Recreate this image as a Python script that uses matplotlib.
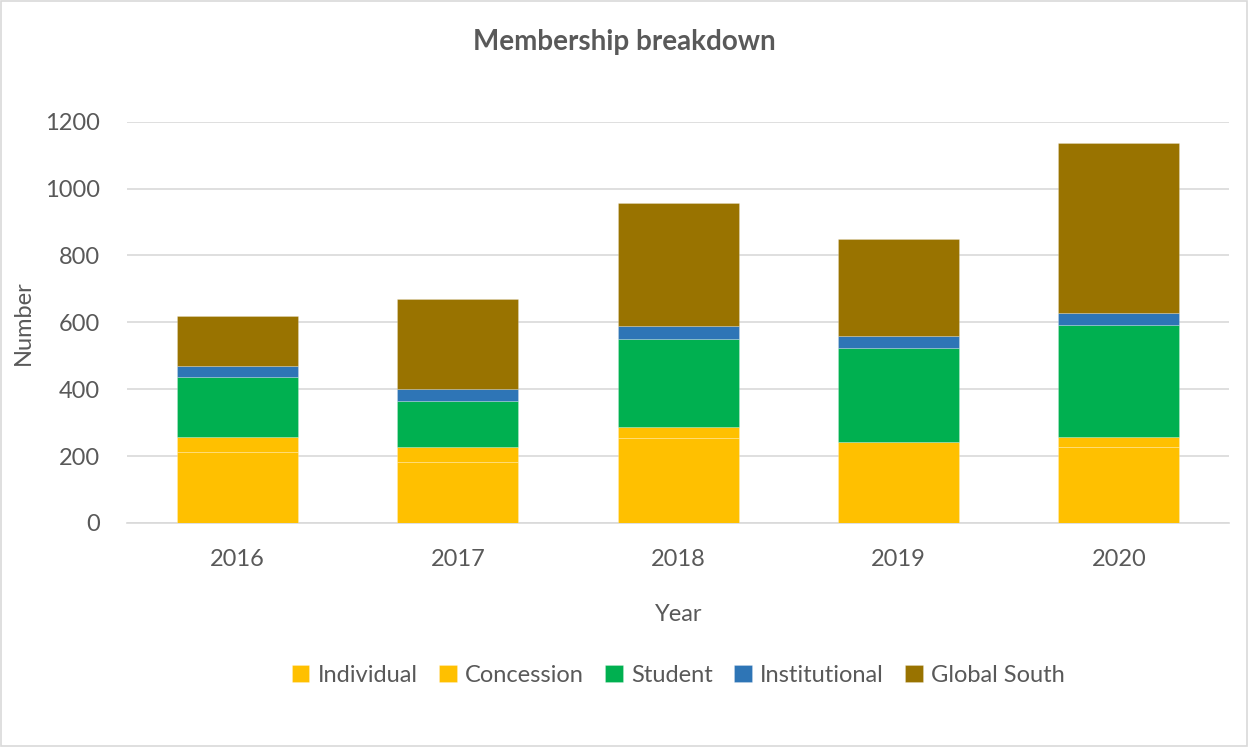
import numpy as np
import matplotlib
matplotlib.use("Agg")
import matplotlib.pyplot as plt
from matplotlib.patches import Rectangle

plt.rcParams['font.family'] = ['Lato', 'DejaVu Sans']

years = ["2016", "2017", "2018", "2019", "2020"]
individual = [213, 183, 255, 243, 228]
concession = [45, 45, 33, 0, 30]
student = [177, 138, 261, 279, 333]
institutional = [33, 36, 39, 36, 36]
global_south = [150, 267, 369, 291, 510]

series = [
    ("Individual", individual, "#FFC000"),
    ("Concession", concession, "#FFC000"),
    ("Student", student, "#00B050"),
    ("Institutional", institutional, "#2E75B6"),
    ("Global South", global_south, "#997300"),
]

text_color = "#595959"

fig = plt.figure(figsize=(12.49, 7.47), dpi=100)
ax = fig.add_axes([0.102, 0.300, 0.882, 0.537])

x = np.arange(len(years))
bottom = np.zeros(len(years))
for name, vals, col in series:
    ax.bar(x, vals, 0.55, bottom=bottom, color=col, label=name,
           edgecolor=(1, 1, 1, 0.25), linewidth=0.6, zorder=3)
    bottom += np.array(vals)

ax.set_xlim(-0.5, 4.5)
ax.set_ylim(0, 1200)
ax.set_yticks(range(0, 1201, 200))
ax.set_xticks(x)
ax.set_xticklabels(years)
ax.grid(axis="y", color="#D9D9D9", linewidth=1.2, zorder=0)
for s in ["top", "right", "left"]:
    ax.spines[s].set_visible(False)
ax.spines["bottom"].set_color("#D9D9D9")
ax.spines["bottom"].set_linewidth(1.2)
ax.tick_params(axis="both", length=0, labelsize=17, colors=text_color)
ax.tick_params(axis="x", pad=19)
ax.tick_params(axis="y", pad=20)

ax.set_xlabel("Year", fontsize=17, color=text_color, labelpad=24)
ax.set_ylabel("Number", fontsize=17, color=text_color, labelpad=8)
fig.text(0.5, 0.944, "Membership breakdown", ha="center", va="center",
         fontsize=20, fontweight="bold", color=text_color)

ax.legend(loc="center", bbox_to_anchor=(0.5, -0.38), ncol=5, frameon=False,
          fontsize=17, labelcolor=text_color, handlelength=0.75, handleheight=0.75,
          handletextpad=0.35, columnspacing=0.9)

fig.patches.append(Rectangle((0.001, 0.002), 0.997, 0.996, transform=fig.transFigure,
                             fill=False, edgecolor="#D9D9D9", linewidth=1.2))

fig.savefig("out.png", dpi=100, facecolor="white")
